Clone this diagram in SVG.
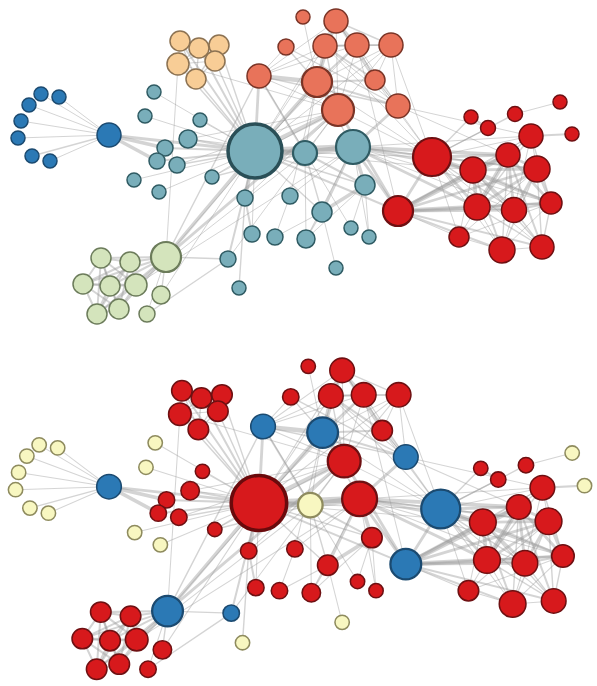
<svg xmlns="http://www.w3.org/2000/svg" xmlns:xlink="http://www.w3.org/1999/xlink" width="597" height="686" viewBox="0 0 597 686">
<style>
#edges line{stroke:#999;stroke-opacity:.42;stroke-linecap:round;fill:none}
.wa line{stroke-width:1}
.wb line{stroke-width:1.4}
.wc line{stroke-width:2}
.wd line{stroke-width:2.8}
.we line{stroke-width:3.6}
.wf line{stroke-width:4.5}
.wg line{stroke-width:6}
circle{stroke-width:1.5}
circle.k{stroke-width:2.2}
circle.hub{stroke-width:3.5}
.B{fill:#2b79b5;stroke:#1b4a70}
.T{fill:#79aeba;stroke:#2f5b63}
.O{fill:#f8cd96;stroke:#8c7252}
.C{fill:#e8735a;stroke:#7a3426}
.R{fill:#d7191c;stroke:#6e1012}
.G{fill:#d4e4bc;stroke:#6c7c5b}
.Y{fill:#f8f7c1;stroke:#8e8b5e}
.T.hub{stroke:#2a4f57}
.R.hub{stroke:#6a0a0c}
</style>
<defs>
<g id="edges">
<g class="wa">
<line x1="41" y1="94" x2="109" y2="135"/><line x1="59" y1="97" x2="109" y2="135"/><line x1="29" y1="105" x2="109" y2="135"/><line x1="21" y1="121" x2="109" y2="135"/><line x1="18" y1="138" x2="109" y2="135"/><line x1="50" y1="161" x2="109" y2="135"/>
<line x1="255" y1="151" x2="154" y2="92"/><line x1="161" y1="295" x2="255" y2="151"/><line x1="145" y1="116" x2="255" y2="151"/><line x1="134" y1="180" x2="255" y2="151"/><line x1="159" y1="192" x2="255" y2="151"/>
<line x1="317" y1="82" x2="166" y2="257"/><line x1="305" y1="153" x2="136" y2="285"/><line x1="305" y1="153" x2="317" y2="82"/><line x1="338" y1="110" x2="259" y2="76"/><line x1="338" y1="110" x2="305" y2="153"/>
<line x1="245" y1="198" x2="338" y2="110"/><line x1="178" y1="64" x2="166" y2="257"/><line x1="178" y1="64" x2="338" y2="110"/><line x1="147" y1="314" x2="166" y2="257"/><line x1="228" y1="259" x2="338" y2="110"/>
<line x1="200" y1="120" x2="255" y2="151"/><line x1="177" y1="165" x2="338" y2="110"/><line x1="219" y1="45" x2="178" y2="64"/><line x1="215" y1="61" x2="178" y2="64"/><line x1="196" y1="79" x2="178" y2="64"/>
<line x1="290" y1="196" x2="317" y2="82"/><line x1="303" y1="17" x2="317" y2="82"/><line x1="286" y1="47" x2="259" y2="76"/><line x1="188" y1="139" x2="305" y2="153"/><line x1="188" y1="139" x2="338" y2="110"/>
<line x1="252" y1="234" x2="255" y2="151"/><line x1="515" y1="114" x2="560" y2="102"/><line x1="432" y1="157" x2="317" y2="82"/><line x1="432" y1="157" x2="338" y2="110"/><line x1="432" y1="157" x2="255" y2="151"/>
<line x1="351" y1="228" x2="365" y2="185"/><line x1="351" y1="228" x2="259" y2="76"/><line x1="275" y1="237" x2="322" y2="212"/><line x1="275" y1="237" x2="290" y2="196"/><line x1="336" y1="268" x2="322" y2="212"/>
<line x1="306" y1="239" x2="365" y2="185"/><line x1="306" y1="239" x2="305" y2="153"/><line x1="353" y1="147" x2="290" y2="196"/><line x1="353" y1="147" x2="306" y2="239"/><line x1="353" y1="147" x2="136" y2="285"/>
<line x1="369" y1="237" x2="365" y2="185"/><line x1="369" y1="237" x2="353" y2="147"/><line x1="531" y1="136" x2="353" y2="147"/><line x1="531" y1="136" x2="398" y2="106"/><line x1="531" y1="136" x2="432" y2="157"/>
<line x1="398" y1="211" x2="531" y2="136"/><line x1="542" y1="247" x2="432" y2="157"/><line x1="514" y1="210" x2="531" y2="136"/><line x1="514" y1="210" x2="353" y2="147"/><line x1="508" y1="155" x2="398" y2="106"/>
<line x1="551" y1="203" x2="353" y2="147"/><line x1="473" y1="170" x2="531" y2="136"/><line x1="473" y1="170" x2="255" y2="151"/><line x1="537" y1="169" x2="531" y2="136"/>
<line x1="502" y1="250" x2="477" y2="207"/><line x1="502" y1="250" x2="432" y2="157"/><line x1="502" y1="250" x2="551" y2="203"/><line x1="502" y1="250" x2="514" y2="210"/><line x1="502" y1="250" x2="542" y2="247"/>
<line x1="336" y1="21" x2="255" y2="151"/><line x1="336" y1="21" x2="259" y2="76"/><line x1="336" y1="21" x2="338" y2="110"/><line x1="336" y1="21" x2="432" y2="157"/><line x1="336" y1="21" x2="398" y2="106"/>
<line x1="325" y1="46" x2="255" y2="151"/><line x1="325" y1="46" x2="259" y2="76"/><line x1="325" y1="46" x2="432" y2="157"/><line x1="325" y1="46" x2="398" y2="106"/>
<line x1="357" y1="45" x2="255" y2="151"/><line x1="357" y1="45" x2="259" y2="76"/><line x1="357" y1="45" x2="338" y2="110"/><line x1="357" y1="45" x2="398" y2="106"/><line x1="357" y1="45" x2="398" y2="211"/>
<line x1="391" y1="45" x2="338" y2="110"/><line x1="391" y1="45" x2="255" y2="151"/><line x1="391" y1="45" x2="432" y2="157"/><line x1="391" y1="45" x2="398" y2="106"/><line x1="391" y1="45" x2="317" y2="82"/>
<line x1="212" y1="177" x2="338" y2="110"/><line x1="212" y1="177" x2="255" y2="151"/>
<line x1="375" y1="80" x2="432" y2="157"/><line x1="375" y1="80" x2="398" y2="106"/><line x1="375" y1="80" x2="357" y2="45"/><line x1="375" y1="80" x2="391" y2="45"/>
<line x1="459" y1="237" x2="473" y2="170"/><line x1="459" y1="237" x2="537" y2="169"/><line x1="459" y1="237" x2="502" y2="250"/><line x1="459" y1="237" x2="551" y2="203"/><line x1="459" y1="237" x2="508" y2="155"/><line x1="459" y1="237" x2="432" y2="157"/><line x1="459" y1="237" x2="398" y2="211"/>
</g>
<g class="wb">
<line x1="32" y1="156" x2="109" y2="135"/><line x1="161" y1="295" x2="166" y2="257"/><line x1="259" y1="76" x2="166" y2="257"/><line x1="178" y1="64" x2="255" y2="151"/><line x1="228" y1="259" x2="147" y2="314"/><line x1="228" y1="259" x2="166" y2="257"/>
<line x1="177" y1="165" x2="255" y2="151"/><line x1="180" y1="41" x2="178" y2="64"/><line x1="199" y1="48" x2="178" y2="64"/><line x1="219" y1="45" x2="180" y2="41"/><line x1="219" y1="45" x2="199" y2="48"/><line x1="219" y1="45" x2="255" y2="151"/>
<line x1="215" y1="61" x2="180" y2="41"/><line x1="215" y1="61" x2="199" y2="48"/><line x1="215" y1="61" x2="219" y2="45"/><line x1="215" y1="61" x2="255" y2="151"/>
<line x1="196" y1="79" x2="180" y2="41"/><line x1="196" y1="79" x2="199" y2="48"/><line x1="196" y1="79" x2="219" y2="45"/><line x1="196" y1="79" x2="215" y2="61"/><line x1="196" y1="79" x2="255" y2="151"/>
<line x1="398" y1="106" x2="259" y2="76"/><line x1="286" y1="47" x2="398" y2="106"/><line x1="286" y1="47" x2="317" y2="82"/><line x1="239" y1="288" x2="245" y2="198"/><line x1="432" y1="157" x2="515" y2="114"/>
<line x1="365" y1="185" x2="255" y2="151"/><line x1="322" y1="212" x2="305" y2="153"/><line x1="322" y1="212" x2="255" y2="151"/><line x1="306" y1="239" x2="322" y2="212"/><line x1="353" y1="147" x2="317" y2="82"/>
<line x1="477" y1="207" x2="531" y2="136"/><line x1="542" y1="247" x2="477" y2="207"/><line x1="514" y1="210" x2="432" y2="157"/><line x1="514" y1="210" x2="542" y2="247"/><line x1="508" y1="155" x2="531" y2="136"/>
<line x1="551" y1="203" x2="531" y2="136"/><line x1="551" y1="203" x2="542" y2="247"/><line x1="473" y1="170" x2="542" y2="247"/><line x1="537" y1="169" x2="542" y2="247"/><line x1="537" y1="169" x2="353" y2="147"/>
<line x1="502" y1="250" x2="508" y2="155"/><line x1="502" y1="250" x2="537" y2="169"/><line x1="325" y1="46" x2="338" y2="110"/><line x1="391" y1="45" x2="325" y2="46"/><line x1="391" y1="45" x2="336" y2="21"/><line x1="391" y1="45" x2="357" y2="45"/>
<line x1="212" y1="177" x2="305" y2="153"/><line x1="471" y1="117" x2="432" y2="157"/><line x1="488" y1="128" x2="432" y2="157"/>
</g>
<g class="wc">
<line x1="255" y1="151" x2="157" y2="161"/><line x1="255" y1="151" x2="165" y2="148"/>
<line x1="101" y1="258" x2="136" y2="285"/><line x1="130" y1="262" x2="136" y2="285"/><line x1="130" y1="262" x2="101" y2="258"/><line x1="83" y1="284" x2="136" y2="285"/><line x1="83" y1="284" x2="101" y2="258"/><line x1="83" y1="284" x2="130" y2="262"/>
<line x1="110" y1="286" x2="136" y2="285"/><line x1="110" y1="286" x2="101" y2="258"/><line x1="110" y1="286" x2="130" y2="262"/><line x1="110" y1="286" x2="83" y2="284"/>
<line x1="97" y1="314" x2="136" y2="285"/><line x1="97" y1="314" x2="101" y2="258"/><line x1="97" y1="314" x2="130" y2="262"/><line x1="97" y1="314" x2="83" y2="284"/>
<line x1="119" y1="309" x2="136" y2="285"/><line x1="119" y1="309" x2="101" y2="258"/><line x1="119" y1="309" x2="130" y2="262"/><line x1="119" y1="309" x2="83" y2="284"/><line x1="119" y1="309" x2="110" y2="286"/><line x1="119" y1="309" x2="97" y2="314"/>
<line x1="166" y1="257" x2="136" y2="285"/><line x1="166" y1="257" x2="101" y2="258"/><line x1="166" y1="257" x2="130" y2="262"/><line x1="166" y1="257" x2="83" y2="284"/><line x1="166" y1="257" x2="110" y2="286"/><line x1="166" y1="257" x2="97" y2="314"/><line x1="166" y1="257" x2="119" y2="309"/>
<line x1="305" y1="153" x2="259" y2="76"/><line x1="228" y1="259" x2="255" y2="151"/><line x1="180" y1="41" x2="255" y2="151"/><line x1="199" y1="48" x2="255" y2="151"/><line x1="199" y1="48" x2="180" y2="41"/>
<line x1="398" y1="106" x2="317" y2="82"/><line x1="188" y1="139" x2="255" y2="151"/><line x1="252" y1="234" x2="245" y2="198"/><line x1="365" y1="185" x2="305" y2="153"/><line x1="353" y1="147" x2="432" y2="157"/>
<line x1="398" y1="211" x2="255" y2="151"/><line x1="542" y1="247" x2="398" y2="211"/><line x1="508" y1="155" x2="542" y2="247"/><line x1="551" y1="203" x2="398" y2="211"/><line x1="551" y1="203" x2="514" y2="210"/>
<line x1="473" y1="170" x2="551" y2="203"/><line x1="537" y1="169" x2="432" y2="157"/><line x1="502" y1="250" x2="473" y2="170"/><line x1="502" y1="250" x2="398" y2="211"/><line x1="572" y1="134" x2="531" y2="136"/>
<line x1="357" y1="45" x2="317" y2="82"/><line x1="357" y1="45" x2="325" y2="46"/><line x1="357" y1="45" x2="336" y2="21"/><line x1="488" y1="128" x2="471" y2="117"/>
<line x1="375" y1="80" x2="325" y2="46"/><line x1="375" y1="80" x2="336" y2="21"/><line x1="375" y1="80" x2="317" y2="82"/>
</g>
<g class="wd">
<line x1="157" y1="161" x2="165" y2="148"/><line x1="255" y1="151" x2="109" y2="135"/><line x1="97" y1="314" x2="110" y2="286"/><line x1="259" y1="76" x2="255" y2="151"/><line x1="338" y1="110" x2="166" y2="257"/><line x1="338" y1="110" x2="317" y2="82"/>
<line x1="353" y1="147" x2="322" y2="212"/><line x1="353" y1="147" x2="398" y2="106"/><line x1="398" y1="211" x2="353" y2="147"/><line x1="398" y1="211" x2="432" y2="157"/><line x1="398" y1="211" x2="338" y2="110"/>
<line x1="477" y1="207" x2="353" y2="147"/><line x1="477" y1="207" x2="432" y2="157"/><line x1="514" y1="210" x2="398" y2="211"/><line x1="514" y1="210" x2="477" y2="207"/><line x1="508" y1="155" x2="432" y2="157"/><line x1="508" y1="155" x2="514" y2="210"/>
<line x1="551" y1="203" x2="477" y2="207"/><line x1="551" y1="203" x2="432" y2="157"/><line x1="551" y1="203" x2="508" y2="155"/><line x1="473" y1="170" x2="353" y2="147"/><line x1="473" y1="170" x2="432" y2="157"/><line x1="473" y1="170" x2="514" y2="210"/>
<line x1="537" y1="169" x2="551" y2="203"/><line x1="537" y1="169" x2="473" y2="170"/><line x1="537" y1="169" x2="508" y2="155"/><line x1="537" y1="169" x2="398" y2="211"/><line x1="537" y1="169" x2="514" y2="210"/><line x1="537" y1="169" x2="477" y2="207"/>
<line x1="336" y1="21" x2="317" y2="82"/><line x1="325" y1="46" x2="317" y2="82"/><line x1="325" y1="46" x2="336" y2="21"/>
</g>
<g class="we">
<line x1="165" y1="148" x2="109" y2="135"/><line x1="157" y1="161" x2="109" y2="135"/><line x1="166" y1="257" x2="255" y2="151"/><line x1="317" y1="82" x2="255" y2="151"/><line x1="245" y1="198" x2="255" y2="151"/>
<line x1="322" y1="212" x2="365" y2="185"/><line x1="353" y1="147" x2="365" y2="185"/><line x1="508" y1="155" x2="353" y2="147"/><line x1="473" y1="170" x2="508" y2="155"/><line x1="473" y1="170" x2="398" y2="211"/><line x1="473" y1="170" x2="477" y2="207"/>
</g>
<g class="wf">
<line x1="317" y1="82" x2="259" y2="76"/><line x1="338" y1="110" x2="255" y2="151"/><line x1="477" y1="207" x2="398" y2="211"/><line x1="508" y1="155" x2="398" y2="211"/><line x1="508" y1="155" x2="477" y2="207"/>
</g>
<g class="wg">
<line x1="305" y1="153" x2="255" y2="151"/><line x1="353" y1="147" x2="305" y2="153"/><line x1="353" y1="147" x2="255" y2="151"/>
</g>
</g>
</defs>
<rect width="597" height="686" fill="#ffffff"/>
<g id="connectors">
<use href="#edges" xlink:href="#edges"/>
<use href="#edges" xlink:href="#edges" transform="matrix(1.027 0 0 1.02 -2.94 348.96)"/>
</g>
<g id="panel-top">
<g id="top-0"><circle class="B" cx="109" cy="135" r="12"/></g>
<g id="top-1"><circle class="B" cx="41" cy="94" r="7"/></g>
<g id="top-2"><circle class="T" cx="165" cy="148" r="8"/></g>
<g id="top-3"><circle class="T" cx="157" cy="161" r="8"/></g>
<g id="top-4"><circle class="B" cx="59" cy="97" r="7"/></g>
<g id="top-5"><circle class="B" cx="29" cy="105" r="7"/></g>
<g id="top-6"><circle class="B" cx="21" cy="121" r="7"/></g>
<g id="top-7"><circle class="B" cx="18" cy="138" r="7"/></g>
<g id="top-8"><circle class="B" cx="32" cy="156" r="7"/></g>
<g id="top-9"><circle class="B" cx="50" cy="161" r="7"/></g>
<g id="top-10"><circle class="T" cx="154" cy="92" r="7"/></g>
<g id="top-12"><circle class="G" cx="161" cy="295" r="9"/></g>
<g id="top-13"><circle class="T" cx="145" cy="116" r="7"/></g>
<g id="top-14"><circle class="T" cx="134" cy="180" r="7"/></g>
<g id="top-15"><circle class="T" cx="159" cy="192" r="7"/></g>
<g id="top-16"><circle class="G" cx="136" cy="285" r="11"/></g>
<g id="top-17"><circle class="G" cx="101" cy="258" r="10"/></g>
<g id="top-18"><circle class="G" cx="130" cy="262" r="10"/></g>
<g id="top-19"><circle class="G" cx="83" cy="284" r="10"/></g>
<g id="top-20"><circle class="G" cx="110" cy="286" r="10"/></g>
<g id="top-21"><circle class="G" cx="97" cy="314" r="10"/></g>
<g id="top-22"><circle class="G" cx="119" cy="309" r="10"/></g>
<g id="top-23"><circle class="G k" cx="166" cy="257" r="15"/></g>
<g id="top-24"><circle class="C" cx="259" cy="76" r="12"/></g>
<g id="top-25"><circle class="C k" cx="317" cy="82" r="15"/></g>
<g id="top-26"><circle class="T k" cx="305" cy="153" r="12"/></g>
<g id="top-27"><circle class="C k" cx="338" cy="110" r="16"/></g>
<g id="top-28"><circle class="T" cx="245" cy="198" r="8"/></g>
<g id="top-29"><circle class="O" cx="178" cy="64" r="11"/></g>
<g id="top-30"><circle class="G" cx="147" cy="314" r="8"/></g>
<g id="top-31"><circle class="T" cx="228" cy="259" r="8"/></g>
<g id="top-32"><circle class="T" cx="200" cy="120" r="7"/></g>
<g id="top-33"><circle class="T" cx="177" cy="165" r="8"/></g>
<g id="top-34"><circle class="O" cx="180" cy="41" r="10"/></g>
<g id="top-35"><circle class="O" cx="199" cy="48" r="10"/></g>
<g id="top-36"><circle class="O" cx="219" cy="45" r="10"/></g>
<g id="top-37"><circle class="O" cx="215" cy="61" r="10"/></g>
<g id="top-38"><circle class="O" cx="196" cy="79" r="10"/></g>
<g id="top-39"><circle class="T" cx="290" cy="196" r="8"/></g>
<g id="top-40"><circle class="C" cx="303" cy="17" r="7"/></g>
<g id="top-41"><circle class="C" cx="398" cy="106" r="12"/></g>
<g id="top-42"><circle class="C" cx="286" cy="47" r="8"/></g>
<g id="top-43"><circle class="T" cx="188" cy="139" r="9"/></g>
<g id="top-44"><circle class="T" cx="252" cy="234" r="8"/></g>
<g id="top-45"><circle class="T" cx="239" cy="288" r="7"/></g>
<g id="top-46"><circle class="R" cx="560" cy="102" r="7"/></g>
<g id="top-47"><circle class="R" cx="515" cy="114" r="7.5"/></g>
<g id="top-48"><circle class="R k" cx="432" cy="157" r="19"/></g>
<g id="top-49"><circle class="T" cx="365" cy="185" r="10"/></g>
<g id="top-50"><circle class="T" cx="351" cy="228" r="7"/></g>
<g id="top-51"><circle class="T" cx="322" cy="212" r="10"/></g>
<g id="top-52"><circle class="T" cx="275" cy="237" r="8"/></g>
<g id="top-53"><circle class="T" cx="336" cy="268" r="7"/></g>
<g id="top-54"><circle class="T" cx="306" cy="239" r="9"/></g>
<g id="top-55"><circle class="T k" cx="353" cy="147" r="17"/></g>
<g id="top-56"><circle class="T" cx="369" cy="237" r="7"/></g>
<g id="top-57"><circle class="R" cx="531" cy="136" r="12"/></g>
<g id="top-58"><circle class="R k" cx="398" cy="211" r="15"/></g>
<g id="top-59"><circle class="R" cx="477" cy="207" r="13"/></g>
<g id="top-60"><circle class="R" cx="542" cy="247" r="12"/></g>
<g id="top-61"><circle class="R" cx="514" cy="210" r="12.5"/></g>
<g id="top-62"><circle class="R" cx="508" cy="155" r="12"/></g>
<g id="top-63"><circle class="R" cx="551" cy="203" r="11"/></g>
<g id="top-64"><circle class="R" cx="473" cy="170" r="13"/></g>
<g id="top-65"><circle class="R" cx="537" cy="169" r="13"/></g>
<g id="top-66"><circle class="R" cx="502" cy="250" r="13"/></g>
<g id="top-67"><circle class="R" cx="572" cy="134" r="7"/></g>
<g id="top-68"><circle class="C" cx="336" cy="21" r="12"/></g>
<g id="top-69"><circle class="C" cx="325" cy="46" r="12"/></g>
<g id="top-70"><circle class="C" cx="357" cy="45" r="12"/></g>
<g id="top-71"><circle class="C" cx="391" cy="45" r="12"/></g>
<g id="top-72"><circle class="T" cx="212" cy="177" r="7"/></g>
<g id="top-73"><circle class="R" cx="471" cy="117" r="7"/></g>
<g id="top-74"><circle class="R" cx="488" cy="128" r="7.5"/></g>
<g id="top-75"><circle class="C" cx="375" cy="80" r="10"/></g>
<g id="top-76"><circle class="R" cx="459" cy="237" r="10"/></g>
<g id="top-11"><circle class="T hub" cx="255" cy="151" r="27"/></g>
</g>
<g id="panel-bottom" transform="matrix(1.027 0 0 1.02 -2.94 348.96)">
<g id="bot-0"><circle class="B" cx="109" cy="135" r="12"/></g>
<g id="bot-1"><circle class="Y" cx="41" cy="94" r="7"/></g>
<g id="bot-2"><circle class="R" cx="165" cy="148" r="8"/></g>
<g id="bot-3"><circle class="R" cx="157" cy="161" r="8"/></g>
<g id="bot-4"><circle class="Y" cx="59" cy="97" r="7"/></g>
<g id="bot-5"><circle class="Y" cx="29" cy="105" r="7"/></g>
<g id="bot-6"><circle class="Y" cx="21" cy="121" r="7"/></g>
<g id="bot-7"><circle class="Y" cx="18" cy="138" r="7"/></g>
<g id="bot-8"><circle class="Y" cx="32" cy="156" r="7"/></g>
<g id="bot-9"><circle class="Y" cx="50" cy="161" r="7"/></g>
<g id="bot-10"><circle class="Y" cx="154" cy="92" r="7"/></g>
<g id="bot-12"><circle class="R" cx="161" cy="295" r="9"/></g>
<g id="bot-13"><circle class="Y" cx="145" cy="116" r="7"/></g>
<g id="bot-14"><circle class="Y" cx="134" cy="180" r="7"/></g>
<g id="bot-15"><circle class="Y" cx="159" cy="192" r="7"/></g>
<g id="bot-16"><circle class="R" cx="136" cy="285" r="11"/></g>
<g id="bot-17"><circle class="R" cx="101" cy="258" r="10"/></g>
<g id="bot-18"><circle class="R" cx="130" cy="262" r="10"/></g>
<g id="bot-19"><circle class="R" cx="83" cy="284" r="10"/></g>
<g id="bot-20"><circle class="R" cx="110" cy="286" r="10"/></g>
<g id="bot-21"><circle class="R" cx="97" cy="314" r="10"/></g>
<g id="bot-22"><circle class="R" cx="119" cy="309" r="10"/></g>
<g id="bot-23"><circle class="B k" cx="166" cy="257" r="15"/></g>
<g id="bot-24"><circle class="B" cx="259" cy="76" r="12"/></g>
<g id="bot-25"><circle class="B k" cx="317" cy="82" r="15"/></g>
<g id="bot-26"><circle class="Y k" cx="305" cy="153" r="12"/></g>
<g id="bot-27"><circle class="R k" cx="338" cy="110" r="16"/></g>
<g id="bot-28"><circle class="R" cx="245" cy="198" r="8"/></g>
<g id="bot-29"><circle class="R" cx="178" cy="64" r="11"/></g>
<g id="bot-30"><circle class="R" cx="147" cy="314" r="8"/></g>
<g id="bot-31"><circle class="B" cx="228" cy="259" r="8"/></g>
<g id="bot-32"><circle class="R" cx="200" cy="120" r="7"/></g>
<g id="bot-33"><circle class="R" cx="177" cy="165" r="8"/></g>
<g id="bot-34"><circle class="R" cx="180" cy="41" r="10"/></g>
<g id="bot-35"><circle class="R" cx="199" cy="48" r="10"/></g>
<g id="bot-36"><circle class="R" cx="219" cy="45" r="10"/></g>
<g id="bot-37"><circle class="R" cx="215" cy="61" r="10"/></g>
<g id="bot-38"><circle class="R" cx="196" cy="79" r="10"/></g>
<g id="bot-39"><circle class="R" cx="290" cy="196" r="8"/></g>
<g id="bot-40"><circle class="R" cx="303" cy="17" r="7"/></g>
<g id="bot-41"><circle class="B" cx="398" cy="106" r="12"/></g>
<g id="bot-42"><circle class="R" cx="286" cy="47" r="8"/></g>
<g id="bot-43"><circle class="R" cx="188" cy="139" r="9"/></g>
<g id="bot-44"><circle class="R" cx="252" cy="234" r="8"/></g>
<g id="bot-45"><circle class="Y" cx="239" cy="288" r="7"/></g>
<g id="bot-46"><circle class="Y" cx="560" cy="102" r="7"/></g>
<g id="bot-47"><circle class="R" cx="515" cy="114" r="7.5"/></g>
<g id="bot-48"><circle class="B k" cx="432" cy="157" r="19"/></g>
<g id="bot-49"><circle class="R" cx="365" cy="185" r="10"/></g>
<g id="bot-50"><circle class="R" cx="351" cy="228" r="7"/></g>
<g id="bot-51"><circle class="R" cx="322" cy="212" r="10"/></g>
<g id="bot-52"><circle class="R" cx="275" cy="237" r="8"/></g>
<g id="bot-53"><circle class="Y" cx="336" cy="268" r="7"/></g>
<g id="bot-54"><circle class="R" cx="306" cy="239" r="9"/></g>
<g id="bot-55"><circle class="R k" cx="353" cy="147" r="17"/></g>
<g id="bot-56"><circle class="R" cx="369" cy="237" r="7"/></g>
<g id="bot-57"><circle class="R" cx="531" cy="136" r="12"/></g>
<g id="bot-58"><circle class="B k" cx="398" cy="211" r="15"/></g>
<g id="bot-59"><circle class="R" cx="477" cy="207" r="13"/></g>
<g id="bot-60"><circle class="R" cx="542" cy="247" r="12"/></g>
<g id="bot-61"><circle class="R" cx="514" cy="210" r="12.5"/></g>
<g id="bot-62"><circle class="R" cx="508" cy="155" r="12"/></g>
<g id="bot-63"><circle class="R" cx="551" cy="203" r="11"/></g>
<g id="bot-64"><circle class="R" cx="473" cy="170" r="13"/></g>
<g id="bot-65"><circle class="R" cx="537" cy="169" r="13"/></g>
<g id="bot-66"><circle class="R" cx="502" cy="250" r="13"/></g>
<g id="bot-67"><circle class="Y" cx="572" cy="134" r="7"/></g>
<g id="bot-68"><circle class="R" cx="336" cy="21" r="12"/></g>
<g id="bot-69"><circle class="R" cx="325" cy="46" r="12"/></g>
<g id="bot-70"><circle class="R" cx="357" cy="45" r="12"/></g>
<g id="bot-71"><circle class="R" cx="391" cy="45" r="12"/></g>
<g id="bot-72"><circle class="R" cx="212" cy="177" r="7"/></g>
<g id="bot-73"><circle class="R" cx="471" cy="117" r="7"/></g>
<g id="bot-74"><circle class="R" cx="488" cy="128" r="7.5"/></g>
<g id="bot-75"><circle class="R" cx="375" cy="80" r="10"/></g>
<g id="bot-76"><circle class="R" cx="459" cy="237" r="10"/></g>
<g id="bot-11"><circle class="R hub" cx="255" cy="151" r="27"/></g>
</g>
</svg>
